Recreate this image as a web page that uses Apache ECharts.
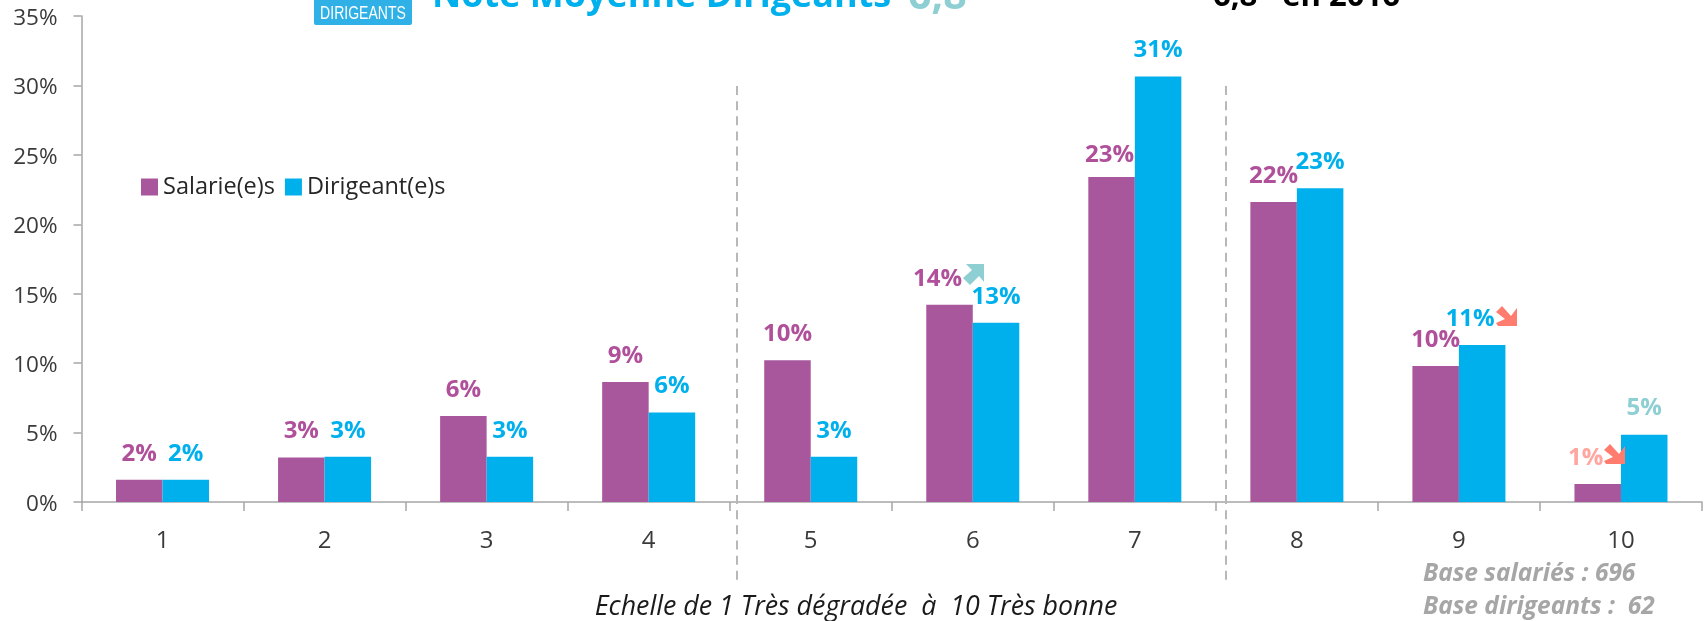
<!DOCTYPE html>
<html><head><meta charset="utf-8">
<style>html,body{margin:0;padding:0;background:#fff}#c{width:1706px;height:621px}</style>
<script src="https://cdn.jsdelivr.net/npm/echarts@6/dist/echarts.min.js"></script>
</head><body><div id="c"></div>
<script>
const categories = ['1','2','3','4','5','6','7','8','9','10'];
const salaries = [1.6,3.2,6.2,8.65,10.2,14.2,23.4,21.6,9.8,1.3];
const dirigeants = [1.6,3.25,3.25,6.45,3.25,12.9,30.65,22.6,11.3,4.85];
const salariesLabels = ['2%','3%','6%','9%','10%','14%','23%','22%','10%','1%'];
const dirigeantsLabels = ['2%','3%','3%','6%','3%','13%','31%','23%','11%','5%'];

const FONT = '"Open Sans", sans-serif';
const PURPLE = '#a9579d', BLUE = '#00b0ec', PURPLE_T = '#b0509a', TEAL = '#8ecfd4', SALMON = '#ff7c6e';
const salOffsets = {5:[-12,-14],6:[-2,-10],9:[-12,-14]};
const dirOffsets = {8:[-12,-14]};
const salColors = {9:'#ffa6a0'};
const dirColors = {9:TEAL};

function items(vals, labels, offsets, colors, base){
  return vals.map((v,i)=>({value:v,label:{formatter:labels[i],offset:offsets[i]||[0,-14],color:colors[i]||base}}));
}
function arrow(pts,fill){return {type:'polygon',shape:{points:pts},style:{fill},z:20};}
const upArrow=(x,y)=>arrow([[x+3,y],[x+21,y],[x+21,y+18],[x+16,y+12],[x+7,y+21],[x,y+14],[x+9,y+6]],TEAL);
const downArrow=(x,y)=>arrow([[x+21,y+2],[x+21,y+20],[x+2,y+20],[x,y+17],[x+9,y+13],[x,y+6],[x+6,y],[x+15,y+10]],SALMON);
const dashed=x=>({type:'line',shape:{x1:x,y1:86,x2:x,y2:580},style:{stroke:'#b8b8b8',lineWidth:2,lineDash:[9,6.15]},z:1});
const txt=(x,y,text,font,fill,align)=>({type:'text',x,y,style:{text,font,fill,align:align||'left',verticalAlign:'middle'},z:10});

const chart = echarts.init(document.getElementById('c'),null,{renderer:'canvas'});
chart.setOption({
  animation:false,
  backgroundColor:'#fff',
  textStyle:{fontFamily:FONT},
  grid:{left:81.5,right:4,top:16,bottom:119,containLabel:false},
  legend:{left:141,top:175,padding:0,itemWidth:17,itemHeight:17,itemGap:10,icon:'rect',
    textStyle:{fontFamily:FONT,fontSize:23.5,color:'#262626'},
    data:['Salarie(e)s','Dirigeant(e)s']},
  xAxis:{type:'category',data:categories,
    axisLine:{lineStyle:{color:'#a6a6a6',width:1.5}},
    axisTick:{show:true,length:9,lineStyle:{color:'#a6a6a6',width:1.5},alignWithLabel:false},
    axisLabel:{fontFamily:FONT,fontSize:24,color:'#3a3a3a',margin:27}},
  yAxis:{type:'value',min:0,max:35,interval:5,
    axisLine:{show:true,lineStyle:{color:'#a6a6a6',width:1.5}},
    axisTick:{show:true,length:8,lineStyle:{color:'#a6a6a6',width:1.5}},
    splitLine:{show:false},
    axisLabel:{margin:24,formatter:'{t|{value}%}',
      rich:{t:{fontFamily:FONT,fontSize:22.5,color:'#3a3a3a',padding:[5,0,0,0]}}}},
  series:[
    {name:'Salarie(e)s',type:'bar',barGap:'0%',barCategoryGap:'42.6%',
     itemStyle:{color:PURPLE},
     label:{show:true,position:'top',distance:0,fontFamily:FONT,fontWeight:'bold',fontSize:24},
     data:items(salaries,salariesLabels,salOffsets,salColors,PURPLE_T),z:3},
    {name:'Dirigeant(e)s',type:'bar',
     itemStyle:{color:BLUE},
     label:{show:true,position:'top',distance:0,fontFamily:FONT,fontWeight:'bold',fontSize:24},
     data:items(dirigeants,dirigeantsLabels,dirOffsets,dirColors,BLUE),z:3}
  ],
  graphic:[
    dashed(737),dashed(1226),
    upArrow(963,264),downArrow(1496,306),downArrow(1604,444),
    {type:'rect',shape:{x:314,y:-2,width:98,height:27,r:2},style:{fill:'#2fb0e6'},z:5},
    {...txt(0,0,'DIRIGEANTS','18px "Liberation Sans",sans-serif','#fff','center'),x:363,y:14,scaleX:0.78},
    txt(432,-3,'Note Moyenne Dirigeants','bold 36px '+FONT,BLUE),
    txt(908,-3,'6,8','bold 41px '+FONT,TEAL),
    txt(1213,-3,'6,8* en 2016','bold 31px '+FONT,'#000'),
    txt(856,607,'Echelle de 1 Très dégradée  à  10 Très bonne','italic 26.8px '+FONT,'#1a1a1a','center'),
    txt(1423,574,'Base salariés : 696','italic bold 24.5px '+FONT,'#a6a6a6'),
    txt(1423,607,'Base dirigeants :  62','italic bold 24.5px '+FONT,'#a6a6a6')
  ]
});
</script></body></html>
